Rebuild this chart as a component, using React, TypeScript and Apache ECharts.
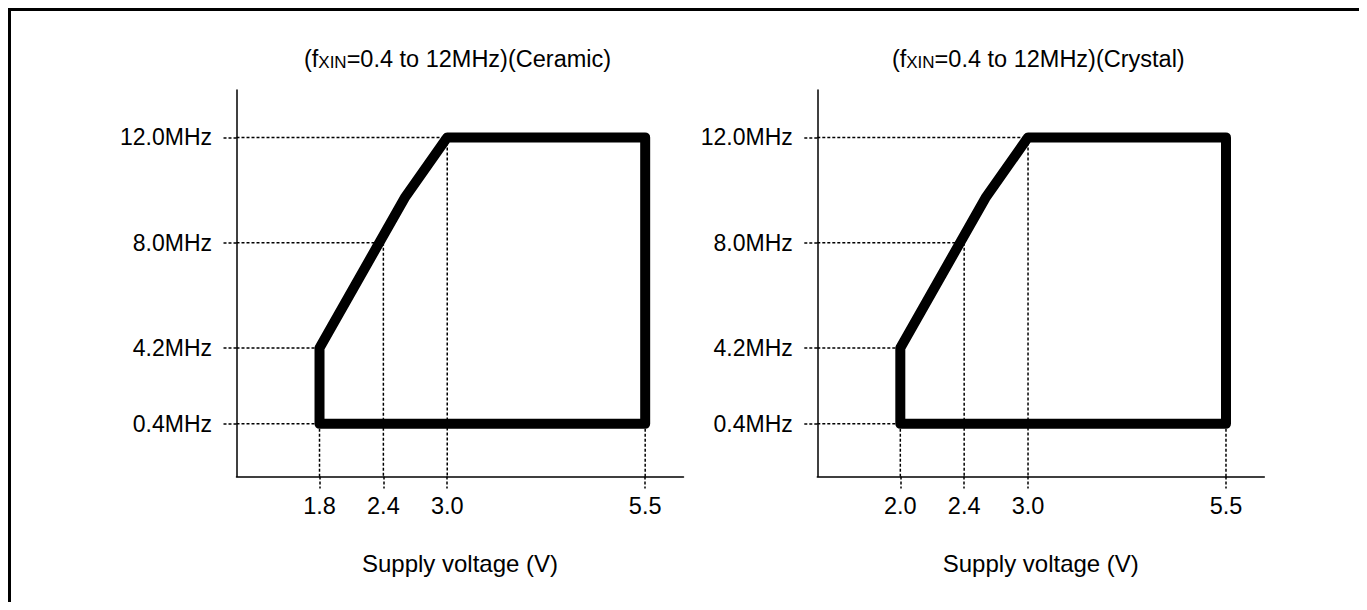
import React, { useEffect, useRef } from "react";
import * as echarts from "echarts";

// ---- data ----
const freqTicks = [0.4, 4.2, 8.0, 12.0]; // MHz
const ceramicVoltTicks = [1.8, 2.4, 3.0, 5.5]; // V
const crystalVoltTicks = [2.0, 2.4, 3.0, 5.5]; // V

// operating-range boundary (closed polygon), voltage / frequency pairs
const ceramicBoundaryV = [1.8, 1.8, 2.6, 3.0, 5.5, 5.5, 1.8];
const ceramicBoundaryF = [0.4, 4.2, 9.7, 12.0, 12.0, 0.4, 0.4];
const crystalBoundaryV = [2.0, 2.0, 2.6, 3.0, 5.5, 5.5, 2.0];
const crystalBoundaryF = [0.4, 4.2, 9.7, 12.0, 12.0, 0.4, 0.4];

// dotted guides: horizontal guide of each freqTick runs to this voltage,
// vertical guide of each voltage tick starts at this frequency
const ceramicHGuideV = [1.8, 1.8, 2.4, 3.0];
const ceramicVGuideF = [0.4, 8.0, 12.0, 0.4];
const crystalHGuideV = [2.0, 2.0, 2.4, 3.0];
const crystalVGuideF = [0.4, 8.0, 12.0, 0.4];

const ceramicTitle = "=0.4 to 12MHz)(Ceramic)";
const crystalTitle = "=0.4 to 12MHz)(Crystal)";
const xName = "Supply voltage (V)";

// ---- schematic (piecewise-linear) scale: tick k sits at slot k ----
const X_SLOTS = [1.3, 2.3, 3.3, 6.4];
const X_MAX = 7;
const Y_SLOTS = [0.5, 1.22, 2.22, 3.22];
const Y_MAX = 3.67;

function interp(v: number, knots: number[], slots: number[]): number {
  let i = 0;
  while (i < knots.length - 2 && v > knots[i + 1]) i++;
  const t = (v - knots[i]) / (knots[i + 1] - knots[i]);
  return slots[i] + t * (slots[i + 1] - slots[i]);
}

const FONT = '"Liberation Sans", Arial, Helvetica, sans-serif';
const BLACK = "#000";
const DOT: number[] = [3, 2];

function nearestIdx(u: number, slots: number[]) {
  let best = 0;
  for (let i = 1; i < slots.length; i++) {
    if (Math.abs(slots[i] - u) < Math.abs(slots[best] - u)) best = i;
  }
  return best;
}

function buildPanel(
  idx: number,
  voltTicks: number[],
  bV: number[],
  bF: number[],
  hGuideV: number[],
  vGuideF: number[]
) {
  const sx = (v: number) => interp(v, voltTicks, X_SLOTS);
  const sy = (f: number) => interp(f, freqTicks, Y_SLOTS);

  const xAxis = {
    gridIndex: idx,
    type: "value",
    min: 0,
    max: X_MAX,
    axisLine: { show: true, onZero: false, lineStyle: { color: BLACK, width: 1.5 } },
    axisTick: {
      show: true,
      customValues: voltTicks.map(sx),
      length: 12,
      lineStyle: { color: BLACK, width: 1.5, type: DOT },
    },
    axisLabel: {
      show: true,
      customValues: voltTicks.map(sx),
      formatter: (u: number) => voltTicks[nearestIdx(u, X_SLOTS)].toFixed(1),
      margin: 17,
      fontSize: 23.5,
      fontFamily: FONT,
      color: BLACK,
    },
    splitLine: { show: false },
    name: xName,
    nameLocation: "middle",
    nameGap: 74.5,
    nameTextStyle: { fontSize: 24, fontFamily: FONT, color: BLACK },
  };

  const yAxis = {
    gridIndex: idx,
    type: "value",
    min: 0,
    max: Y_MAX,
    axisLine: { show: true, onZero: false, lineStyle: { color: BLACK, width: 1.5 } },
    axisTick: {
      show: true,
      customValues: freqTicks.map(sy),
      length: 14.5,
      lineStyle: { color: BLACK, width: 1.5, type: DOT },
    },
    axisLabel: {
      show: true,
      customValues: freqTicks.map(sy),
      formatter: (u: number) => freqTicks[nearestIdx(u, Y_SLOTS)].toFixed(1) + "MHz",
      margin: 24.5,
      fontSize: 23,
      fontFamily: FONT,
      color: BLACK,
    },
    splitLine: { show: false },
  };

  const guideStyle = { color: BLACK, width: 1.5, type: DOT };
  const series: any[] = [];
  freqTicks.forEach((f, i) => {
    series.push({
      type: "line",
      xAxisIndex: idx,
      yAxisIndex: idx,
      data: [
        [0, sy(f)],
        [sx(hGuideV[i]), sy(f)],
      ],
      symbol: "none",
      silent: true,
      z: 1,
      lineStyle: guideStyle,
    });
  });
  voltTicks.forEach((v, i) => {
    series.push({
      type: "line",
      xAxisIndex: idx,
      yAxisIndex: idx,
      data: [
        [sx(v), sy(vGuideF[i])],
        [sx(v), 0],
      ],
      symbol: "none",
      silent: true,
      z: 1,
      lineStyle: guideStyle,
    });
  });
  series.push({
    type: "line",
    xAxisIndex: idx,
    yAxisIndex: idx,
    data: bV.map((v, i) => [sx(v), sy(bF[i])]),
    symbol: "none",
    silent: true,
    z: 3,
    lineStyle: { color: BLACK, width: 10, join: "round", cap: "round" },
  });

  return { xAxis, yAxis, series };
}

function titleText(x: number, rest: string) {
  return {
    type: "text",
    x,
    y: 45.5,
    silent: true,
    style: {
      text: "{n|(f}{s|XIN}{n|" + rest + "}",
      align: "center",
      verticalAlign: "middle",
      rich: {
        n: { fontSize: 23.5, lineHeight: 28, fontFamily: FONT, fill: BLACK, verticalAlign: "bottom" },
        s: { fontSize: 17, lineHeight: 24.5, fontFamily: FONT, fill: BLACK, verticalAlign: "bottom" },
      },
    },
  };
}

export default function App() {
  const ref = useRef<HTMLDivElement>(null);

  useEffect(() => {
    if (!ref.current) return;
    const chart = echarts.init(ref.current, undefined, { renderer: "svg" });
    const p1 = buildPanel(0, ceramicVoltTicks, ceramicBoundaryV, ceramicBoundaryF, ceramicHGuideV, ceramicVGuideF);
    const p2 = buildPanel(1, crystalVoltTicks, crystalBoundaryV, crystalBoundaryF, crystalHGuideV, crystalVGuideF);
    chart.setOption({
      animation: false,
      backgroundColor: "#fff",
      textStyle: { fontFamily: FONT },
      grid: [
        { left: 225.5, top: 79, width: 447, height: 386.5, outerBoundsMode: "none" },
        { left: 806.3, top: 79, width: 447, height: 386.5, outerBoundsMode: "none" },
      ],
      xAxis: [p1.xAxis, p2.xAxis],
      yAxis: [p1.yAxis, p2.yAxis],
      series: [...p1.series, ...p2.series],
      graphic: [titleText(446.5, ceramicTitle), titleText(1027.3, crystalTitle)],
    } as any);
    return () => chart.dispose();
  }, []);

  return (
    <div
      style={{
        borderTop: "3px solid #000",
        borderLeft: "3px solid #000",
        width: 1356,
        height: 599,
        marginBottom: -8,
        background: "#fff",
      }}
    >
      <div ref={ref} style={{ width: 1356, height: 599 }} />
    </div>
  );
}
